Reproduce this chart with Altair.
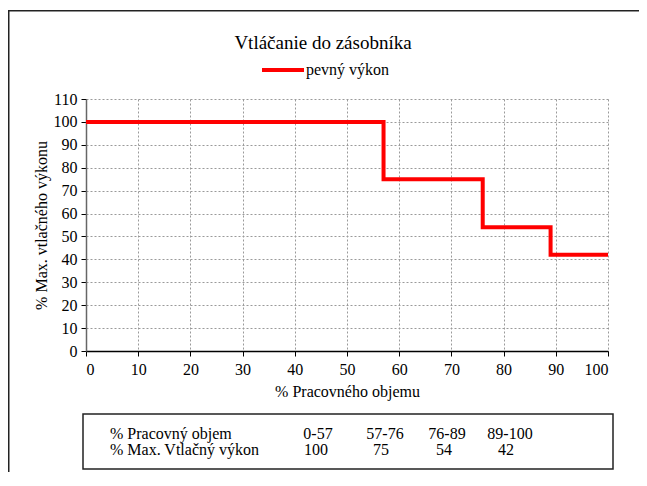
import altair as alt
import pandas as pd

# ---- data ----
boundaries = [0, 57, 76, 89, 100]
values = [100, 75, 54, 42]
range_labels = ["0-57", "57-76", "76-89", "89-100"]
value_labels = ["100", "75", "54", "42"]
row_names = ["% Pracovný objem", "% Max. Vtlačný výkon"]
title_text = "Vtláčanie do zásobníka"
legend_text = "pevný výkon"
x_title = "% Pracovného objemu"
y_title = "% Max. vtlačného výkonu"

FONT = "Liberation Serif"
W, H = 522, 252

line_df = pd.DataFrame({
    "x": boundaries,
    "y": values + [values[-1]],
})

line = alt.Chart(line_df).mark_line(
    color="#ff0000", strokeWidth=4, interpolate="step-after", strokeCap="butt"
).encode(
    x=alt.X("x:Q", scale=alt.Scale(domain=[0, 100], nice=False),
            axis=alt.Axis(values=list(range(0, 101, 10)), title=x_title,
                          domainColor="#000000", titlePadding=6, labelPadding=5)),
    y=alt.Y("y:Q", scale=alt.Scale(domain=[0, 110], nice=False),
            axis=alt.Axis(values=list(range(0, 111, 10)), title=y_title,
                          domainColor="#666666", titlePadding=4, labelPadding=4)),
)

title = alt.Chart(pd.DataFrame({"t": [title_text]})).mark_text(
    font=FONT, fontSize=19, align="center", baseline="middle", color="#000"
).encode(x=alt.value(237), y=alt.value(-56), text="t:N")

leg_rule = alt.Chart(pd.DataFrame({"a": [0]})).mark_rule(
    color="#ff0000", strokeWidth=4
).encode(x=alt.value(176), x2=alt.value(218), y=alt.value(-29))

leg_text = alt.Chart(pd.DataFrame({"t": [legend_text]})).mark_text(
    font=FONT, fontSize=16, align="left", baseline="middle", color="#000"
).encode(x=alt.value(220), y=alt.value(-29), text="t:N")

# outer frame: top and left edges drawn as thin filled bars
frame_top = alt.Chart(pd.DataFrame({"a": [1]})).mark_rect(
    fill="#222", strokeWidth=0
).encode(x=alt.value(-78), x2=alt.value(560), y=alt.value(-89), y2=alt.value(-87.5))
frame_left = alt.Chart(pd.DataFrame({"a": [2]})).mark_rect(
    fill="#222", strokeWidth=0
).encode(x=alt.value(-78), x2=alt.value(-76.5), y=alt.value(-89), y2=alt.value(380))

box = alt.Chart(pd.DataFrame({"a": [3]})).mark_rect(
    fill="white", fillOpacity=0, stroke="#222", strokeWidth=1.5
).encode(x=alt.value(-3), x2=alt.value(527), y=alt.value(315), y2=alt.value(370))

col_px = [[232, 299, 361, 424], [230, 295, 358, 420]]
row_py = [335, 351]
rows = []
for r, name in enumerate(row_names):
    rows.append({"px": 24, "py": row_py[r], "t": name, "al": "left"})
for c in range(len(range_labels)):
    rows.append({"px": col_px[0][c], "py": row_py[0], "t": range_labels[c], "al": "center"})
    rows.append({"px": col_px[1][c], "py": row_py[1], "t": value_labels[c], "al": "center"})
tdf = pd.DataFrame(rows)

tab_left = alt.Chart(tdf[tdf.al == "left"]).mark_text(
    font=FONT, fontSize=16, align="left", baseline="middle", color="#000"
).encode(x=alt.X("px:Q", scale=None), y=alt.Y("py:Q", scale=None), text="t:N")
tab_center = alt.Chart(tdf[tdf.al == "center"]).mark_text(
    font=FONT, fontSize=16, align="center", baseline="middle", color="#000"
).encode(x=alt.X("px:Q", scale=None), y=alt.Y("py:Q", scale=None), text="t:N")

chart = alt.layer(
    frame_top, frame_left, line, title, leg_rule, leg_text, box, tab_left, tab_center
).resolve_scale(x="independent", y="independent").properties(
    width=W, height=H,
    autosize=alt.AutoSizeParams(type="none"),
    padding={"left": 78, "top": 91, "right": 31, "bottom": 121},
).configure_view(stroke=None).configure_axis(
    labelFont=FONT, titleFont=FONT, labelFontSize=16, titleFontSize=16,
    labelColor="#000", titleColor="#000", titleFontWeight="normal",
    grid=True, gridColor="#9a9a9a", gridDash=[2, 2], gridWidth=1,
    tickColor="#000", tickSize=5, domainWidth=1.5,
)

chart.save("out.html", embed_options={"renderer": "svg", "actions": False})
